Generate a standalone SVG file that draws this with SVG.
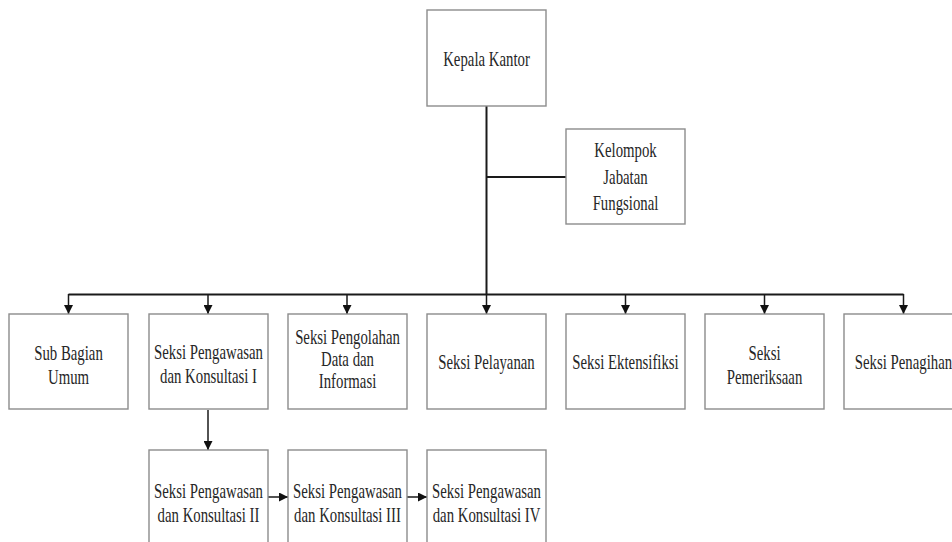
<svg xmlns="http://www.w3.org/2000/svg" width="952" height="542" viewBox="0 0 952 542">
<style>
.box{fill:#fff;stroke:#8c8c8c;stroke-width:1.4}
.t{font-family:"Liberation Serif","Times New Roman",serif;font-size:20px;fill:#262626;text-anchor:middle}
.ln{fill:none;stroke:#1a1a1a;stroke-width:2}
.ar{fill:none;stroke:#1a1a1a;stroke-width:1.5;marker-end:url(#ah)}
</style>
<defs>
<marker id="ah" viewBox="0 0 10 10" refX="10" refY="5" markerWidth="11" markerHeight="9" markerUnits="userSpaceOnUse" orient="auto">
<path d="M0,0 L10,5 L0,10 z" fill="#111"/>
</marker>
</defs>
<rect width="952" height="542" fill="#fff"/>
<g id="connectors">
<path class="ln" d="M486.5,106 V294.5"/>
<path class="ln" d="M486.5,177 H566"/>
<path class="ln" d="M68.5,294.5 H903.5"/>
<path class="ar" d="M68.5,294 V314"/>
<path class="ar" d="M208,294 V314"/>
<path class="ar" d="M347,294 V314"/>
<path class="ar" d="M486.5,294 V314"/>
<path class="ar" d="M625.5,294 V314"/>
<path class="ar" d="M764.5,294 V314"/>
<path class="ar" d="M903.5,294 V314"/>
<path class="ar" d="M208,410 V450"/>
<path class="ar" d="M268,497 H288"/>
<path class="ar" d="M407,497 H427"/>
</g>
<g id="kepala-kantor">
<rect class="box" x="427" y="10" width="119" height="96"/>
<text class="t" transform="translate(486.5,66) scale(0.74,1)">Kepala Kantor</text>
</g>
<g id="kelompok-jabatan-fungsional">
<rect class="box" x="566" y="129" width="119" height="95"/>
<text class="t" transform="translate(625.5,157) scale(0.74,1)">Kelompok</text>
<text class="t" transform="translate(625.5,184) scale(0.74,1)">Jabatan</text>
<text class="t" transform="translate(625.5,210) scale(0.74,1)">Fungsional</text>
</g>
<g id="sub-bagian-umum">
<rect class="box" x="9" y="314" width="119" height="95"/>
<text class="t" transform="translate(68.5,360) scale(0.74,1)">Sub Bagian</text>
<text class="t" transform="translate(68.5,384) scale(0.74,1)">Umum</text>
</g>
<g id="seksi-pengawasan-1">
<rect class="box" x="149" y="314" width="119" height="95"/>
<text class="t" transform="translate(208.5,359) scale(0.74,1)">Seksi Pengawasan</text>
<text class="t" transform="translate(208.5,383) scale(0.74,1)">dan Konsultasi I</text>
</g>
<g id="seksi-pengolahan-data">
<rect class="box" x="288" y="314" width="119" height="95"/>
<text class="t" transform="translate(347.5,344) scale(0.74,1)">Seksi Pengolahan</text>
<text class="t" transform="translate(347.5,366) scale(0.74,1)">Data dan</text>
<text class="t" transform="translate(347.5,388) scale(0.74,1)">Informasi</text>
</g>
<g id="seksi-pelayanan">
<rect class="box" x="427" y="314" width="119" height="95"/>
<text class="t" transform="translate(486.5,369) scale(0.74,1)">Seksi Pelayanan</text>
</g>
<g id="seksi-ektensifiksi">
<rect class="box" x="566" y="314" width="119" height="95"/>
<text class="t" transform="translate(625.5,369) scale(0.74,1)">Seksi Ektensifiksi</text>
</g>
<g id="seksi-pemeriksaan">
<rect class="box" x="705" y="314" width="119" height="95"/>
<text class="t" transform="translate(764.5,360) scale(0.74,1)">Seksi</text>
<text class="t" transform="translate(764.5,384) scale(0.74,1)">Pemeriksaan</text>
</g>
<g id="seksi-penagihan">
<rect class="box" x="844" y="314" width="119" height="95"/>
<text class="t" transform="translate(903.5,369) scale(0.74,1)">Seksi Penagihan</text>
</g>
<g id="seksi-pengawasan-2">
<rect class="box" x="149" y="450" width="119" height="100"/>
<text class="t" transform="translate(208.5,498) scale(0.74,1)">Seksi Pengawasan</text>
<text class="t" transform="translate(208.5,522) scale(0.74,1)">dan Konsultasi II</text>
</g>
<g id="seksi-pengawasan-3">
<rect class="box" x="288" y="450" width="119" height="100"/>
<text class="t" transform="translate(347.5,498) scale(0.74,1)">Seksi Pengawasan</text>
<text class="t" transform="translate(347.5,522) scale(0.74,1)">dan Konsultasi III</text>
</g>
<g id="seksi-pengawasan-4">
<rect class="box" x="427" y="450" width="119" height="100"/>
<text class="t" transform="translate(486.5,498) scale(0.74,1)">Seksi Pengawasan</text>
<text class="t" transform="translate(486.5,522) scale(0.74,1)">dan Konsultasi IV</text>
</g>
</svg>
